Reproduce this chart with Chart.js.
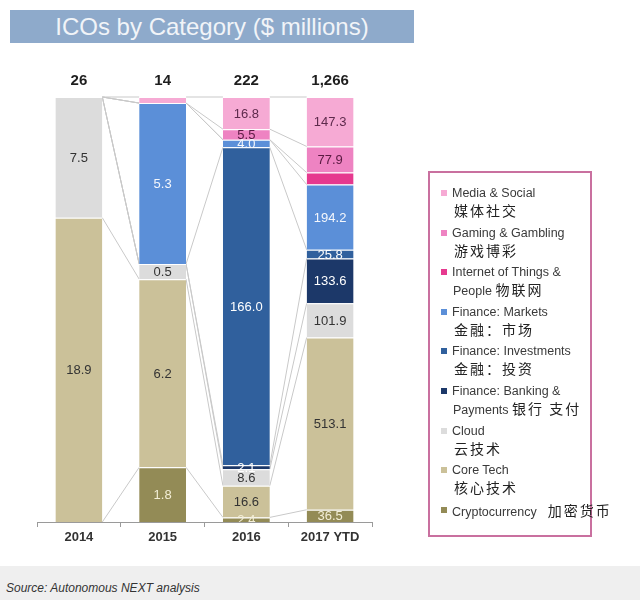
<!DOCTYPE html>
<html>
<head>
<meta charset="utf-8">
<script src="https://cdn.jsdelivr.net/npm/chart.js@4.4.1/dist/chart.umd.min.js"></script>
<style>
html,body{margin:0;padding:0;background:#fff;}
#wrap{position:relative;width:640px;height:607px;overflow:hidden;font-family:Arial,"Liberation Sans",sans-serif;}
#c{position:absolute;left:0;top:0;}
#title{position:absolute;left:10px;top:10px;width:404px;height:33px;background:#8eaacb;color:#f1f4f8;font-size:24px;line-height:33px;text-align:center;}
#footer{position:absolute;left:0;top:566px;width:640px;height:34px;background:#efefef;}
#footer span{position:absolute;left:6px;top:15px;font-size:12px;font-style:italic;color:#333;}
#legend{position:absolute;left:428px;top:171px;width:160px;height:350px;border:2px solid #c9709f;padding-top:12px;box-sizing:content-box;}
#legend .item{position:relative;height:39.6px;}
#legend .mk{position:absolute;left:11px;top:5px;width:6px;height:6px;}
#legend .l1{padding-left:22px;font-size:12.5px;line-height:16px;color:#3a3a3a;white-space:nowrap;}
#legend .l2{padding-left:23px;font-size:12.5px;line-height:18px;color:#3a3a3a;white-space:nowrap;}
#legend .zh{font-family:"Noto Sans CJK SC",sans-serif;font-size:14px;letter-spacing:2px;color:#222;}
</style>
</head>
<body>
<div id="wrap">
  <canvas id="c" width="640" height="607"></canvas>
  <div id="title">ICOs by Category ($ millions)</div>
  <div id="legend"></div>
  <div id="footer"><span>Source: Autonomous NEXT analysis</span></div>
</div>
<script>
// Categories (x axis)
const categories = ['2014', '2015', '2016', '2017 YTD'];

// Series (bottom of stack first), values in $ millions per category
const seriesNames = ['Cryptocurrency', 'Core Tech', 'Cloud', 'Finance: Banking & Payments', 'Finance: Investments', 'Finance: Markets', 'Internet of Things & People', 'Gaming & Gambling', 'Media & Social'];
const crypto      = [0,    1.8,  2.4,   36.5];
const coreTech    = [18.9, 6.2,  16.6,  513.1];
const cloud       = [7.5,  0.5,  8.6,   101.9];
const banking     = [0,    0,    2.1,   133.6];
const investments = [0,    0,    166.0, 25.8];
const markets     = [0,    5.3,  4.0,   194.2];
const iot         = [0,    0,    0,     35.7];
const gaming      = [0,    0,    5.5,   77.9];
const media       = [0,    0.2,  16.8,  147.3];
const seriesValues = [crypto, coreTech, cloud, banking, investments, markets, iot, gaming, media];

// Legend texts (top to bottom order of legend = reverse of stack)
const legendLine1 = ['Media & Social', 'Gaming & Gambling', 'Internet of Things &', 'Finance: Markets', 'Finance: Investments', 'Finance: Banking &', 'Cloud', 'Core Tech', 'Cryptocurrency'];
const legendLine2En = ['', '', 'People', '', '', 'Payments', '', '', ''];
const legendZh = ['媒体社交', '游戏博彩', '物联网', '金融：市场', '金融：投资', '银行 支付', '云技术', '核心技术', '加密货币'];

// Segments whose value label is not shown: [series index, category index]
const unlabeled = [[8, 1], [6, 3]];

// Styles
const colors = ['#938b56', '#cbc199', '#dcdcdc', '#1c3869', '#30609d', '#5b8fd8', '#e6398f', '#ee83c2', '#f6aad4'];
const labelColors = ['#f3eed6', '#333333', '#333333', '#ffffff', '#ffffff', '#f4f7fc', '#ffffff', '#5a1a42', '#5e2a4c'];

const totals = categories.map((_, i) => seriesValues.reduce((s, a) => s + a[i], 0));
const pct = seriesValues.map(a => a.map((v, i) => v / totals[i] * 100));

// Legend
const legendEl = document.getElementById('legend');
for (let k = 0; k < legendLine1.length; k++) {
  const si = seriesNames.length - 1 - k;
  const it = document.createElement('div');
  it.className = 'item';
  const mk = document.createElement('div');
  mk.className = 'mk';
  mk.style.background = colors[si];
  it.appendChild(mk);
  const l1 = document.createElement('div');
  l1.className = 'l1';
  l1.textContent = legendLine1[k];
  it.appendChild(l1);
  if (k === legendLine1.length - 1) {
    const z = document.createElement('span');
    z.className = 'zh';
    z.style.marginLeft = '11px';
    z.style.fontSize = '14px';
    z.textContent = legendZh[k];
    l1.appendChild(z);
  } else {
    const l2 = document.createElement('div');
    l2.className = 'l2';
    if (legendLine2En[k]) {
      l2.appendChild(document.createTextNode(legendLine2En[k] + ' '));
    } else {
      l2.style.paddingLeft = '24px';
    }
    const z = document.createElement('span');
    z.className = 'zh';
    z.textContent = legendZh[k];
    l2.appendChild(z);
    it.appendChild(l2);
  }
  legendEl.appendChild(it);
}

const connectorPlugin = {
  id: 'connectors',
  beforeDatasetsDraw(chart) {
    const ctx = chart.ctx;
    ctx.save();
    ctx.strokeStyle = '#c9c9c9';
    ctx.lineWidth = 1;
    ctx.beginPath();
    chart.data.datasets.forEach((ds, di) => {
      const meta = chart.getDatasetMeta(di);
      for (let i = 0; i < meta.data.length - 1; i++) {
        const a = meta.data[i], b = meta.data[i + 1];
        ctx.moveTo(a.x + a.width / 2, a.y);
        ctx.lineTo(b.x - b.width / 2, b.y);
      }
    });
    ctx.stroke();
    ctx.restore();
  }
};

const labelPlugin = {
  id: 'segLabels',
  afterDatasetsDraw(chart) {
    const { ctx, chartArea } = chart;
    ctx.save();
    ctx.beginPath();
    ctx.rect(chartArea.left, chartArea.top, chartArea.right - chartArea.left, chartArea.bottom - chartArea.top);
    ctx.clip();
    ctx.font = '13px Arial, "Liberation Sans", sans-serif';
    ctx.textAlign = 'center';
    ctx.textBaseline = 'middle';
    chart.data.datasets.forEach((ds, di) => {
      const meta = chart.getDatasetMeta(di);
      meta.data.forEach((bar, i) => {
        const v = seriesValues[di][i];
        if (!v) return;
        if (unlabeled.some(p => p[0] === di && p[1] === i)) return;
        ctx.fillStyle = labelColors[di];
        ctx.fillText(v.toFixed(1), bar.x, (bar.y + bar.base) / 2 + 1);
      });
    });
    ctx.restore();
    // totals above bars
    ctx.save();
    ctx.font = 'bold 15px Arial, "Liberation Sans", sans-serif';
    ctx.textAlign = 'center';
    ctx.textBaseline = 'middle';
    ctx.fillStyle = '#1e1e1e';
    const xs = chart.scales.x;
    categories.forEach((c, i) => {
      ctx.fillText(Math.round(totals[i]).toLocaleString('en-US'), xs.getPixelForValue(i), chartArea.top - 16);
    });
    ctx.restore();
  }
};

new Chart(document.getElementById('c'), {
  type: 'bar',
  data: {
    labels: categories,
    datasets: seriesNames.map((n, di) => ({
      label: n,
      data: pct[di],
      backgroundColor: colors[di],
      borderColor: '#ffffff',
      borderWidth: { top: 1, right: 0, bottom: 0, left: 0 },
      borderSkipped: false,
      barPercentage: 0.56,
      categoryPercentage: 1.0
    }))
  },
  options: {
    responsive: false,
    animation: false,
    layout: { padding: { left: 37, right: 268, top: 97, bottom: 45 } },
    plugins: { legend: { display: false }, tooltip: { enabled: false }, title: { display: false } },
    scales: {
      x: {
        stacked: true,
        afterFit(scale) { scale.height = 40; },
        grid: { display: true, drawOnChartArea: false, offset: true, tickLength: 5, color: '#9a9a9a' },
        border: { display: true, color: '#9a9a9a', width: 1 },
        ticks: { padding: 3, color: '#333', font: { family: 'Arial, "Liberation Sans", sans-serif', size: 13, weight: 'bold' } }
      },
      y: { stacked: true, display: false, min: 0, max: 100 }
    }
  },
  plugins: [connectorPlugin, labelPlugin]
});
</script>
</body>
</html>
